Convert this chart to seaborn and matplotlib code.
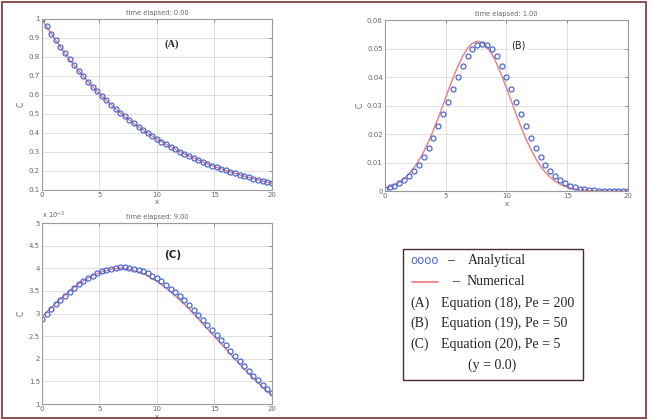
import numpy as np
import seaborn as sns
import matplotlib.pyplot as plt
from matplotlib.patches import Rectangle
from matplotlib.lines import Line2D
from matplotlib.ticker import FuncFormatter

# x positions of the plotted points (same grid for every panel)
x_vals = [0.0, 0.4, 0.8, 1.2, 1.6, 2.0, 2.4, 2.8, 3.2, 3.6, 4.0, 4.4, 4.8, 5.2, 5.6,
          6.0, 6.4, 6.8, 7.2, 7.6, 8.0, 8.4, 8.8, 9.2, 9.6, 10.0, 10.4, 10.8, 11.2, 11.6,
          12.0, 12.4, 12.8, 13.2, 13.6, 14.0, 14.4, 14.8, 15.2, 15.6, 16.0, 16.4, 16.8,
          17.2, 17.6, 18.0, 18.4, 18.8, 19.2, 19.6, 20.0]

# (A) Pe = 200, t = 0.00
ana_a = [1.0, 0.9608, 0.9231, 0.8869, 0.8521, 0.8187, 0.7866, 0.7558, 0.7261, 0.6977,
         0.6703, 0.6440, 0.6188, 0.5945, 0.5712, 0.5488, 0.5273, 0.5066, 0.4868, 0.4677,
         0.4493, 0.4317, 0.4148, 0.3985, 0.3829, 0.3679, 0.3535, 0.3396, 0.3263, 0.3135,
         0.3012, 0.2894, 0.2780, 0.2671, 0.2567, 0.2466, 0.2369, 0.2276, 0.2187, 0.2101,
         0.2019, 0.1940, 0.1864, 0.1791, 0.1720, 0.1653, 0.1588, 0.1526, 0.1466, 0.1409,
         0.1353]
num_a = [1.0, 0.9608, 0.9231, 0.8869, 0.8521, 0.8187, 0.7866, 0.7558, 0.7261, 0.6977,
         0.6703, 0.6440, 0.6188, 0.5945, 0.5712, 0.5488, 0.5273, 0.5066, 0.4868, 0.4677,
         0.4493, 0.4317, 0.4148, 0.3985, 0.3829, 0.3679, 0.3535, 0.3396, 0.3263, 0.3135,
         0.3012, 0.2894, 0.2780, 0.2671, 0.2567, 0.2466, 0.2369, 0.2276, 0.2187, 0.2101,
         0.2019, 0.1940, 0.1864, 0.1791, 0.1720, 0.1653, 0.1588, 0.1526, 0.1466, 0.1409,
         0.1353]

# (B) Pe = 50, t = 1.00
ana_b = [0.00088, 0.00131, 0.00191, 0.00273, 0.00381, 0.00523, 0.00703, 0.00926, 0.01194,
         0.01509, 0.01870, 0.02269, 0.02698, 0.03144, 0.03589, 0.04015, 0.04400, 0.04726,
         0.04973, 0.05128, 0.05180, 0.05128, 0.04973, 0.04726, 0.04400, 0.04015, 0.03589,
         0.03144, 0.02698, 0.02269, 0.01870, 0.01509, 0.01194, 0.00926, 0.00703, 0.00523,
         0.00381, 0.00273, 0.00191, 0.00131, 0.00088, 0.00058, 0.00037, 0.00023, 0.00014,
         0.00008, 0.00005, 0.00003, 0.00002, 0.00001, 0.00000]
num_b = [0.00101, 0.00151, 0.00221, 0.00316, 0.00444, 0.00608, 0.00817, 0.01074, 0.01380,
         0.01737, 0.02139, 0.02576, 0.03038, 0.03506, 0.03960, 0.04376, 0.04733, 0.05010,
         0.05188, 0.05260, 0.05217, 0.05064, 0.04810, 0.04472, 0.04068, 0.03622, 0.03156,
         0.02690, 0.02245, 0.01833, 0.01464, 0.01145, 0.00876, 0.00657, 0.00481, 0.00345,
         0.00242, 0.00166, 0.00112, 0.00074, 0.00047, 0.00030, 0.00018, 0.00011, 0.00006,
         0.00004, 0.00002, 0.00001, 0.00001, 0.00000, 0.00000]

# (C) Pe = 5, t = 9.00  (values in units of 1e-3)
ana_c = [2.87, 2.98, 3.09, 3.20, 3.30, 3.39, 3.48, 3.57, 3.65, 3.72, 3.78, 3.84, 3.89,
         3.93, 3.96, 3.99, 4.01, 4.02, 4.02, 4.01, 3.99, 3.96, 3.93, 3.89, 3.84, 3.78,
         3.72, 3.64, 3.55, 3.47, 3.38, 3.29, 3.19, 3.08, 2.97, 2.86, 2.75, 2.64, 2.53,
         2.42, 2.30, 2.18, 2.06, 1.95, 1.84, 1.73, 1.63, 1.53, 1.43, 1.33, 1.24]
num_c = [2.93, 3.03, 3.13, 3.23, 3.32, 3.41, 3.50, 3.58, 3.66, 3.72, 3.78, 3.84, 3.88,
         3.92, 3.95, 3.98, 3.99, 4.00, 4.00, 3.98, 3.95, 3.92, 3.88, 3.83, 3.77, 3.71,
         3.64, 3.56, 3.48, 3.39, 3.30, 3.20, 3.10, 2.99, 2.88, 2.77, 2.66, 2.55, 2.44,
         2.33, 2.22, 2.10, 1.99, 1.88, 1.77, 1.67, 1.57, 1.47, 1.37, 1.28, 1.19]

titles = ["time elapsed: 0.00", "time elapsed: 1.00", "time elapsed: 9.00"]
legend_rows = ["(A)", "(B)", "(C)"]
legend_eqs = ["Equation (18), Pe = 200", "Equation (19), Pe = 50", "Equation (20), Pe = 5"]

blue = "#4a68d6"
red = "#f07a78"
frame = "#7a3232"

sns.set_style("whitegrid")
plt.rcParams["font.family"] = ["DejaVu Sans"]

fig = plt.figure(figsize=(6.51, 4.2), dpi=100)
ax_a = fig.add_axes([0.0645, 0.548, 0.353, 0.407])
ax_b = fig.add_axes([0.591, 0.545, 0.374, 0.407])
ax_c = fig.add_axes([0.0645, 0.038, 0.353, 0.431])


def style_axis(ax, title, yticks, fmt):
    ax.set_xlim(0, 20)
    ax.set_xticks([0, 5, 10, 15, 20])
    ax.set_yticks(yticks)
    ax.set_ylim(yticks[0], yticks[-1])
    ax.yaxis.set_major_formatter(FuncFormatter(fmt))
    ax.grid(True, color="#d9d9d9", linewidth=0.6)
    for s in ax.spines.values():
        s.set_color("#9a9a9a")
        s.set_linewidth(0.8)
    ax.tick_params(labelsize=5, colors="#666666", length=2, width=0.5,
                   direction="in", pad=1.5, top=True, right=True)
    ax.set_title(title, fontsize=4.8, color="#666666", pad=3)
    ax.set_xlabel("x", fontsize=5, color="#666666", labelpad=1)
    ax.set_ylabel("C", fontsize=5.5, color="#666666", labelpad=2)


def draw(ax, ana, num):
    sns.lineplot(x=x_vals, y=num, ax=ax, color=red, linewidth=1.0)
    sns.lineplot(x=x_vals, y=ana, ax=ax, linestyle="none", marker="o",
                 markerfacecolor="none", markeredgecolor=blue, markeredgewidth=0.9,
                 markersize=3.6)


draw(ax_a, ana_a, num_a)
style_axis(ax_a, titles[0], [0.1, 0.2, 0.3, 0.4, 0.5, 0.6, 0.7, 0.8, 0.9, 1.0],
           lambda v, p: f"{v:g}")
ax_a.text(11.3, 0.865, "(A)", fontsize=7.5, fontweight="bold",
          family="Liberation Serif", ha="center", va="center")

draw(ax_b, ana_b, num_b)
style_axis(ax_b, titles[1], [0, 0.01, 0.02, 0.03, 0.04, 0.05, 0.06],
           lambda v, p: f"{v:g}")
ax_b.text(11.0, 0.0511, "(B)", fontsize=7, ha="center", va="center",
          bbox=dict(boxstyle="round,pad=0.15", fc="white", ec="none"))

draw(ax_c, ana_c, num_c)
style_axis(ax_c, titles[2], [1, 1.5, 2, 2.5, 3, 3.5, 4, 4.5, 5],
           lambda v, p: f"{v:g}")
ax_c.text(11.4, 4.29, "(C)", fontsize=7.5, fontweight="bold",
          ha="center", va="center")
ax_c.text(0.0, 1.01, r"x 10$^{-3}$", transform=ax_c.transAxes, fontsize=4.8,
          color="#666666", ha="left", va="bottom")

# outer frame
fig.patches.append(Rectangle((2 / 651, 2 / 420), 644 / 651, 416 / 420,
                             transform=fig.transFigure, fill=False,
                             edgecolor=frame, linewidth=1.2))

# legend box
fig.patches.append(Rectangle((0.619, 0.0952), 0.277, 0.312,
                             transform=fig.transFigure, facecolor="white",
                             edgecolor="#4a2a2a", linewidth=1.0, zorder=5))
serif = "Liberation Serif"
row_y = [0.379, 0.329, 0.279, 0.230, 0.180, 0.131]
fig.text(0.630, row_y[0], "oooo", fontsize=8.5, color=blue, family="DejaVu Sans",
         va="center", zorder=6)
fig.text(0.687, row_y[0], "–", fontsize=10, family=serif, va="center", zorder=6)
fig.text(0.719, row_y[0], "Analytical", fontsize=10, family=serif, va="center", zorder=6)
fig.lines.append(Line2D([0.633, 0.673], [row_y[1], row_y[1]], transform=fig.transFigure,
                        color=red, linewidth=1.2, zorder=6))
fig.text(0.694, row_y[1], "–", fontsize=10, family=serif, va="center", zorder=6)
fig.text(0.717, row_y[1], "Numerical", fontsize=10, family=serif, va="center", zorder=6)
for i in range(3):
    fig.text(0.630, row_y[2 + i], legend_rows[i], fontsize=10, family=serif,
             va="center", zorder=6)
    fig.text(0.677, row_y[2 + i], legend_eqs[i], fontsize=10, family=serif,
             va="center", zorder=6)
fig.text(0.7565, row_y[5], "(y = 0.0)", fontsize=10, family=serif, ha="center",
         va="center", zorder=6)

plt.savefig("out.png", dpi=100)
